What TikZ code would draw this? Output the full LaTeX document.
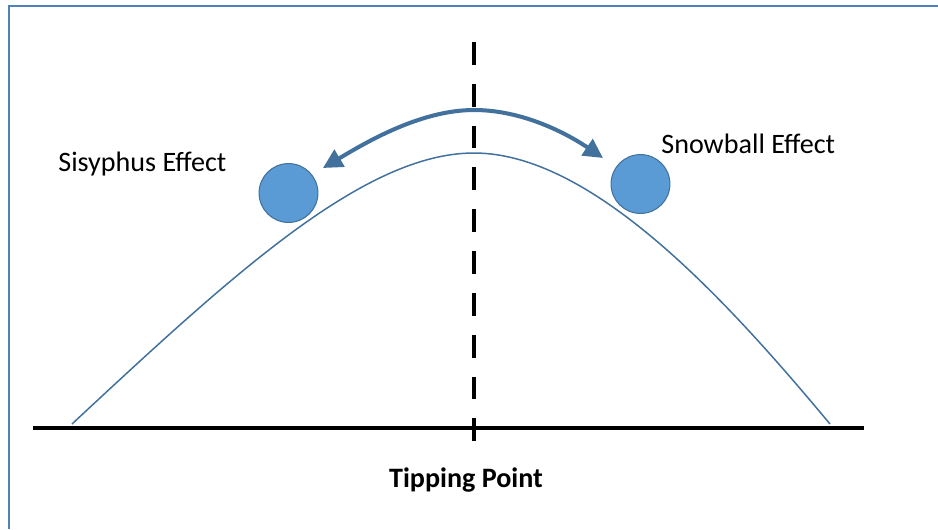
\documentclass[tikz,border=0pt]{standalone}
\usepackage{fontspec}
\setmainfont{Carlito}
\usetikzlibrary{arrows.meta}
\definecolor{frameblue}{RGB}{79,129,189}
\definecolor{lineblue}{RGB}{65,113,156}
\definecolor{ballblue}{RGB}{91,155,213}
\begin{document}
\begin{tikzpicture}[x = 0.02cm, y = -0.02cm,
  ball/.style = {circle, draw = lineblue, line width = 0.6pt, fill = ballblue, minimum size = 33.5pt, inner sep = 0pt},
  effect/.style = {inner sep = 0pt, anchor = base west, font = \fontsize{16}{19}\selectfont},
  swing/.style = {lineblue, line width = 2.3pt, {Triangle[length = 11pt, width = 11pt]}-{Triangle[length = 11pt, width = 11pt]}}]
\useasboundingbox (0,0) rectangle (938,529);
\draw[frameblue, line width = 1.1pt] (9,529) -- (9,6) -- (938,6);
% ground and tipping line
\coordinate (g1) at (33,428);
\coordinate (g2) at (864,428);
\draw[line width = 1.8pt] (g1) -- (g2);
\coordinate (t1) at (474,42);
\coordinate (t2) at (474,445);
\draw[line width = 2.8pt, dash pattern = on 13pt off 10.8pt] (t1) -- (t2);
% hill
\draw[lineblue, line width = 0.85pt] (72,424) .. controls (232,275) and (364,153) .. (474,153) .. controls (594,153) and (730,304) .. (830,424);
\node[ball] (b1) at (288.5,193) {};
\node[ball] (b2) at (640.5,184) {};
% swing arrow
\coordinate (s1) at (323,168);
\coordinate (crest) at (474,110);
\coordinate (s2) at (603,158);
\draw[swing] (s1) .. controls (365,143) and (420,110) .. (crest) .. controls (530,110) and (578,141) .. (s2);
\node[effect] (sisyphus) at (58,171) {Sisyphus Effect};
\node[effect] (snowball) at (661,153) {Snowball Effect};
\node[inner sep = 0pt, anchor = base, font = \bfseries\fontsize{16}{19}\selectfont] (tipping) at (466,487) {Tipping Point};
\end{tikzpicture}
\end{document}
